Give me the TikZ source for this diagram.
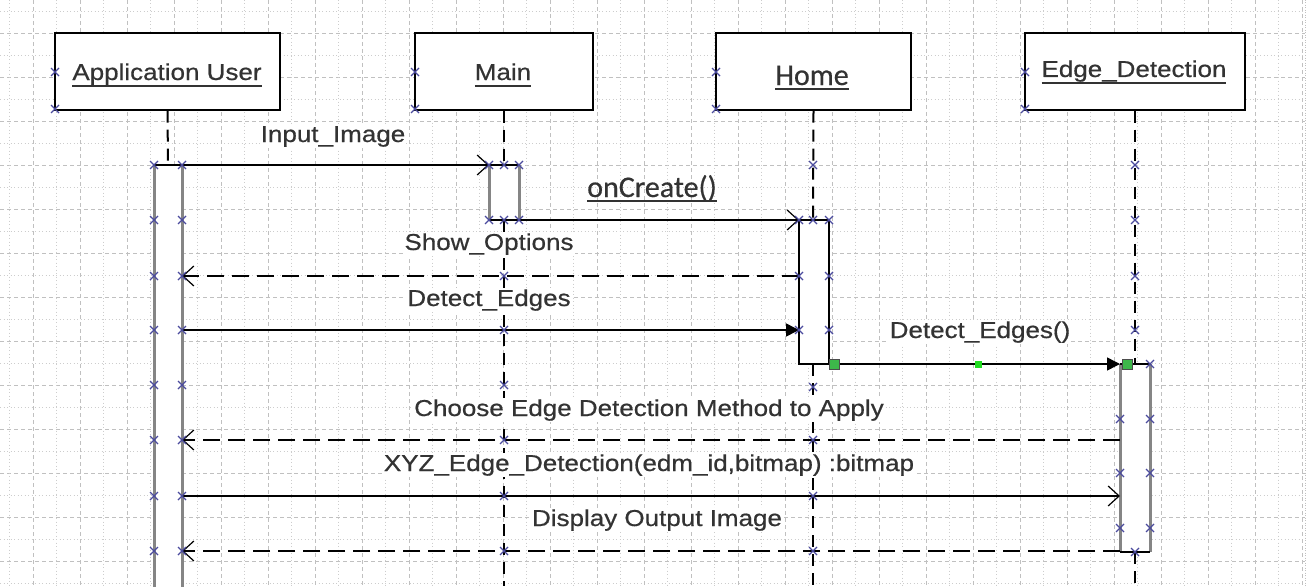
\documentclass[tikz,border=0pt]{standalone}
\usepackage{fontspec}
\setmainfont[FakeStretch=1.13,FakeBold=0.6]{Liberation Sans}
\newfontfamily\calfont[FakeBold=0.5]{Carlito}
\usetikzlibrary{arrows.meta}
\definecolor{gridc}{HTML}{C0C0C0}
\definecolor{txt}{HTML}{333333}
\definecolor{xc}{HTML}{4B4B9E}
\definecolor{barg}{HTML}{858585}
\definecolor{gsq}{HTML}{3DB84A}
\definecolor{gdot}{HTML}{22DD22}
\newcommand\myul[2][5]{\setbox0=\hbox{#2}\rlap{\copy0}\raisebox{-#1pt}{\rule{\wd0}{1.6pt}}}
\tikzset{
  gridD/.style={gridc, line width=0.75pt, dash pattern=on 4pt off 3pt},
  gridd/.style={gridc!80, line width=0.75pt, dash pattern=on 1pt off 2.5pt},
  obj/.style={draw=black, line width=1.4pt, fill=white, minimum width=#1, minimum height=77, inner sep=0pt},
  lbl/.style={text=txt, inner sep=0pt, anchor=base, font=\fontsize{23}{27}\selectfont},
  mlbl/.style={lbl, fill=white, inner sep=1pt},
  clbl/.style={text=txt, inner sep=0pt, anchor=base, font=\calfont\fontsize{30}{34}\selectfont},
  life/.style={black, line width=2pt, dash pattern=on 12pt off 7pt},
  msg/.style={black, line width=1.5pt},
  ret/.style={black, line width=1.8pt, dash pattern=on 17pt off 8pt},
  openhead/.style={-{Straight Barb[length=11pt,width=20pt,line width=1.2pt]}},
  fillhead/.style={-{Triangle[length=13pt,width=13pt]}},
  barside/.style={barg, line width=3pt},
  barend/.style={black, line width=1.2pt},
  xmark/.pic={\draw[xc, line width=1.1pt] (-4,-4)--(4,4) (-4,4)--(4,-4);}
}
\begin{document}
\begin{tikzpicture}[x=1pt,y=-1pt]
\useasboundingbox (0,0) rectangle (1316,586);
\fill[white] (0,0) rectangle (1316,586);
% grid
\foreach \k in {0,...,12} \draw[gridD] (0,33+44*\k) -- (1305,33+44*\k);
\foreach \k in {0,...,13} \draw[gridd] (0,11+44*\k) -- (1305,11+44*\k);
\foreach \k in {0,...,27} \draw[gridD] (33+47*\k,0) -- (33+47*\k,586);
\foreach \k in {0,...,27} \draw[gridd] (9.5+47*\k,0) -- (9.5+47*\k,586);
\draw[gridc, line width=0.8pt, dash pattern=on 1pt off 1.5pt] (1305,0) -- (1305,586);

% object boxes
\node[obj=225] (au) at (167.5,71.5) {};
\node[obj=178] (mn) at (504,71.5) {};
\node[obj=195] (hm) at (813.5,71.5) {};
\node[obj=220] (ed) at (1135,71.5) {};
\node[lbl] (auL) at (167,80) {\myul[7]{Application User}};
\node[lbl] (mnL) at (503,80) {\myul[7]{Main}};
\node[clbl] (hmL) at (812,85) {\myul[4.5]{Home}};
\node[lbl] (edL) at (1134,77) {\myul[7]{Edge\_Detection}};

% coordinates
\coordinate (auTop) at (168,165);
\coordinate (mnTop) at (504,165);
\coordinate (mnBot) at (504,220);
\coordinate (mnEnd) at (504,586);
\coordinate (hmTop) at (813,220);
\coordinate (hmBot) at (813,364);
\coordinate (hmEnd) at (813,586);
\coordinate (edTop) at (1135,364);
\coordinate (edBot) at (1135,552);
\coordinate (edEnd) at (1135,586);

% lifelines
\draw[life] (au.south) -- (auTop);
\draw[life] (mn.south) -- (mnTop);
\draw[life] (mnBot) -- (mnEnd);
\draw[life] (hm.south) -- (hmTop);
\draw[life] (hmBot) -- (hmEnd);
\draw[life] (ed.south) -- (edTop);
\draw[life] (edBot) -- (edEnd);

% activation bars
\fill[white] (154,165) rectangle (182,590);
\draw[barside] (154,165) -- (154,590) (182,165) -- (182,590);
\draw[barend] (154,165) -- (182,165);

\fill[white] (489,165) rectangle (519,220);
\draw[barside] (489,165) -- (489,220) (519,165) -- (519,220);
\draw[barend] (489,165) -- (519,165) (489,220) -- (519,220);

\draw[barend, fill=white] (799,220) rectangle (829,364);

\fill[white] (1120,364) rectangle (1150,552);
\draw[barside] (1120,364) -- (1120,552) (1150,364) -- (1150,552);
\draw[barend] (1120,364) -- (1150,364) (1120,552) -- (1150,552);

% message end points
\coordinate (auR1) at (182,165); \coordinate (mnL1) at (489,165);
\coordinate (mnR2) at (519,220); \coordinate (hmL2) at (799,220);
\coordinate (hmL3) at (799,276); \coordinate (auR3) at (182,276);
\coordinate (auR4) at (182,330); \coordinate (hmL4) at (799,330);
\coordinate (hmR5) at (829,364); \coordinate (edL5) at (1120,364);
\coordinate (edL6) at (1120,440); \coordinate (auR6) at (182,440);
\coordinate (auR7) at (182,496); \coordinate (edL7) at (1120,496);
\coordinate (edL8) at (1120,551); \coordinate (auR8) at (182,551);

% messages
\draw[msg, openhead] (auR1) -- (mnL1);
\draw[msg, openhead] (mnR2) -- (hmL2);
\draw[ret, openhead] (hmL3) -- (auR3);
\draw[msg, fillhead] (auR4) -- (hmL4);
\draw[msg, fillhead] (hmR5) -- (edL5);
\draw[ret, openhead] (edL6) -- (auR6);
\draw[msg, openhead] (auR7) -- (edL7);
\draw[ret, openhead] (edL8) -- (auR8);

% green markers
\node[draw=black!70, fill=gsq, minimum size=10pt, inner sep=0pt, line width=0.8pt] (g1) at (834,364) {};
\node[draw=black!70, fill=gsq, minimum size=10pt, inner sep=0pt, line width=0.8pt] (g2) at (1127,364) {};
\node[fill=gdot, minimum size=7pt, inner sep=0pt] (g3) at (978,364) {};

% labels
\node[mlbl] (t1) at (333,142) {Input\_Image};
\node[clbl] (t2) at (652,197) {\myul[4.5]{onCreate()}};
\node[mlbl] (t3) at (489,250) {Show\_Options};
\node[mlbl] (t4) at (489,306) {Detect\_Edges};
\node[mlbl] (t5) at (980,338) {Detect\_Edges()};
\node[mlbl] (t6) at (649,416) {Choose Edge Detection Method to Apply};
\node[mlbl] (t7) at (649,471) {XYZ\_Edge\_Detection(edm\_id,bitmap) :bitmap};
\node[mlbl] (t8) at (657,526) {Display Output Image};

% connection-point crosses
\foreach \p in {(55,72),(55,109),(415,72),(415,109),(716,72),(716,109),(1025,72),(1025,109)}
  \pic at \p {xmark};
\foreach \y in {165,220,276,330,385,440,496,551} {
  \pic at (154,\y) {xmark}; \pic at (182,\y) {xmark};
}
\foreach \p in {(489,165),(504,165),(519,165),(489,220),(504,220),(519,220)}
  \pic at \p {xmark};
\foreach \y in {276,330,385,440,496,551} \pic at (504,\y) {xmark};
\foreach \y in {165,220,387,440,496,551} \pic at (813,\y) {xmark};
\foreach \y in {220,276,330} { \pic at (799,\y) {xmark}; \pic at (829,\y) {xmark}; }
\foreach \y in {165,220,276,330} \pic at (1135,\y) {xmark};
\pic at (1150,364) {xmark};
\foreach \y in {419,473,528} { \pic at (1120,\y) {xmark}; \pic at (1150,\y) {xmark}; }
\pic at (1135,552) {xmark};
\end{tikzpicture}
\end{document}
